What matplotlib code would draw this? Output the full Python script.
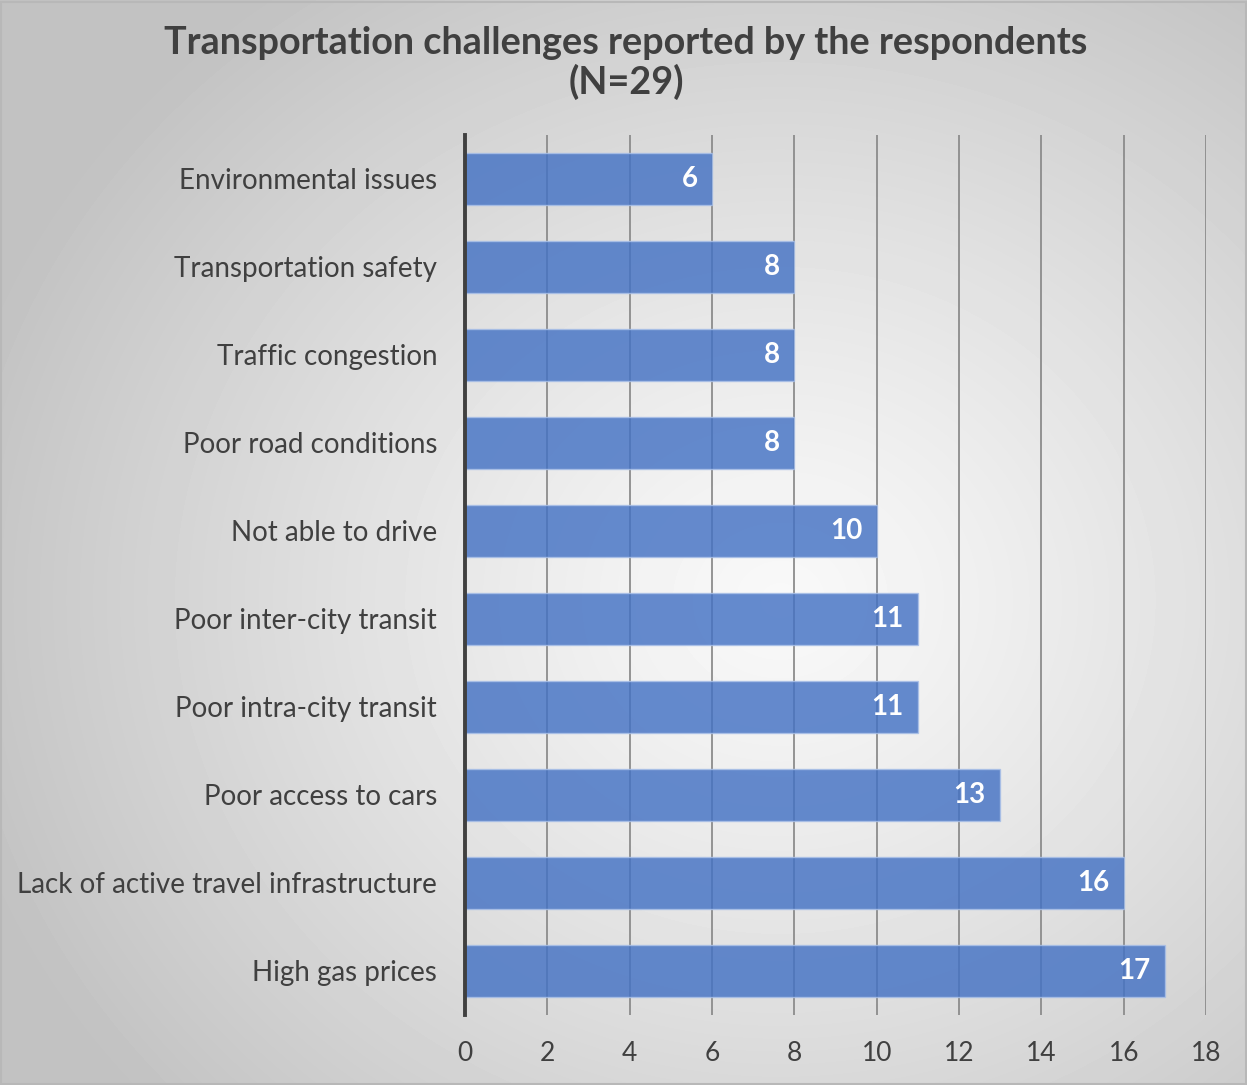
import numpy as np
import matplotlib.pyplot as plt

# chart data, top to bottom
categories = ["Environmental issues", "Transportation safety", "Traffic congestion",
              "Poor road conditions", "Not able to drive", "Poor inter-city transit",
              "Poor intra-city transit", "Poor access to cars",
              "Lack of active travel infrastructure", "High gas prices"]
counts = [6, 8, 8, 8, 10, 11, 11, 13, 16, 17]
xticks = [0, 2, 4, 6, 8, 10, 12, 14, 16, 18]

plt.rcParams['font.family'] = ['Lato', 'DejaVu Sans']

W, H = 1247, 1085
fig = plt.figure(figsize=(W / 100, H / 100), dpi=100)

# radial grey gradient background
bg = fig.add_axes([0, 0, 1, 1])
yy, xx = np.mgrid[0:H, 0:W]
r = np.sqrt(((xx - 780) / 900) ** 2 + ((yy - 600) / 800) ** 2)
shade = np.clip(0.975 - 0.23 * r ** 1.2, 0.76, 1)
bg.imshow(shade, cmap='gray', vmin=0, vmax=1, aspect='auto', extent=[0, 1, 0, 1])
bg.set_xlim(0, 1)
bg.set_ylim(0, 1)
bg.axis('off')
bg.add_patch(plt.Rectangle((0.001, 0.001), 0.998, 0.997, fill=False,
                           edgecolor='#b8b8b8', lw=1.5))

ax = fig.add_axes([465 / W, 70 / H, 741 / W, 880 / H])
ax.patch.set_alpha(0)
y = np.arange(len(categories))
ax.barh(y, counts, height=0.59, color='#4472C4', alpha=0.82,
        edgecolor='#a9c0e8', linewidth=1, zorder=3)
for yi, v in zip(y, counts):
    ax.text(v - 0.35, yi, str(v), color='white', fontsize=20, fontweight='bold',
            ha='right', va='center', zorder=4)

ax.set_xlim(0, 18)
ax.set_ylim(len(categories) - 0.5, -0.5)
ax.set_xticks(xticks)
ax.set_yticks(y)
ax.set_yticklabels(categories, fontsize=20, color='#404040')
ax.tick_params(axis='x', labelsize=19, colors='#404040', length=0, pad=19)
ax.tick_params(axis='y', length=0, pad=20)
ax.grid(axis='x', color='#8c8c8c', linewidth=1.3, zorder=1)
for s in ['top', 'right', 'bottom']:
    ax.spines[s].set_visible(False)
ax.spines['left'].set_color('#404040')
ax.spines['left'].set_linewidth(2.8)
ax.spines['left'].set_zorder(5)

fig.text(0.502, 1 - 43 / H, "Transportation challenges reported by the respondents",
         ha='center', va='center', fontsize=27.2, fontweight='bold', color='#404040')
fig.text(0.502, 1 - 82 / H, "(N=29)",
         ha='center', va='center', fontsize=27.2, fontweight='bold', color='#404040')

fig.savefig("out.png", dpi=100)
